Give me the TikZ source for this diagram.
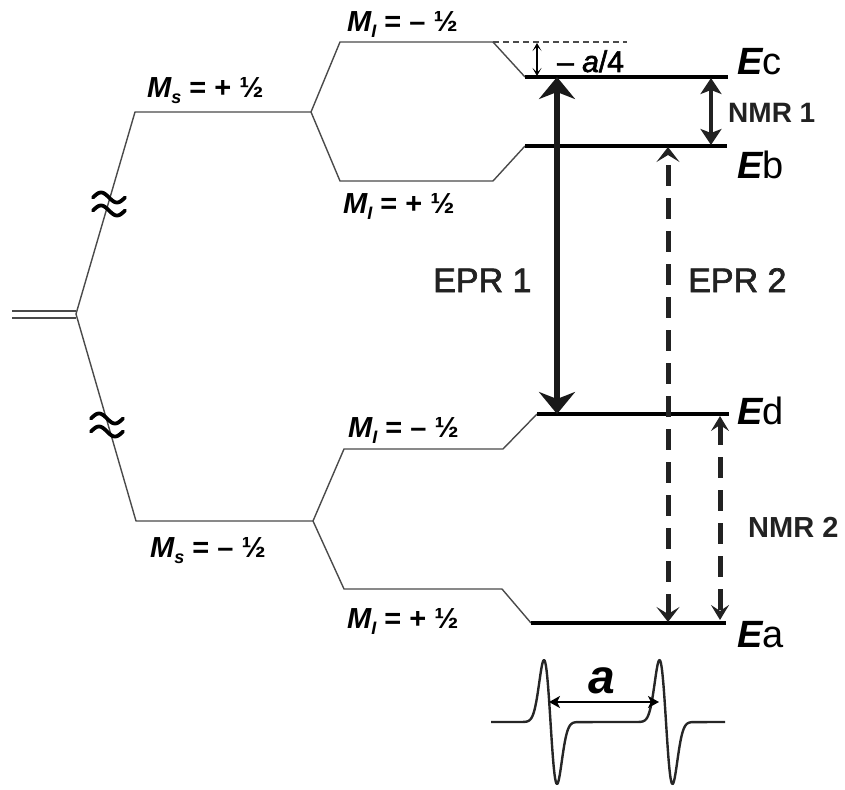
\documentclass[tikz,border=0pt]{standalone}
\usepackage{fontspec}
\setmainfont{Liberation Sans}
\newfontfamily\medfont[FakeBold=2]{Liberation Sans}
\usetikzlibrary{arrows.meta}
\definecolor{thinc}{HTML}{4A4A4A}
\definecolor{labc}{HTML}{222222}
\newcommand\mlbl[1]{{\itshape M\raisebox{-6pt}{\fontsize{18}{18}\selectfont #1}}}
\newcommand\elbl[1]{{\bfseries\itshape E}#1}
\tikzset{
  thinlvl/.style={draw=thinc, line width=1.4pt, line join=round},
  thicklvl/.style={draw=black, line width=4pt},
  mlab/.style={anchor=base west, inner sep=0pt, font=\fontsize{29}{32}\selectfont\bfseries},
  elab/.style={anchor=base west, inner sep=0pt, font=\fontsize{38}{42}\selectfont},
  tlab/.style={anchor=base west, inner sep=0pt, text=labc},
  epra/.style={line width=6.5pt, draw=black!90,
    {Stealth[length=22pt,width=36pt,inset=7pt]}-{Stealth[length=22pt,width=36pt,inset=7pt]}},
  eprb/.style={line width=5pt, draw=labc, dash pattern=on 21pt off 12pt,
    {Stealth[length=15pt,width=23pt,inset=7pt]}-{Stealth[length=15pt,width=23pt,inset=7pt]}},
  nmra/.style={line width=4.5pt, draw=labc,
    {Stealth[length=16pt,width=21pt,inset=4pt]}-{Stealth[length=16pt,width=21pt,inset=4pt]}},
  nmrb/.style={line width=5pt, draw=labc, dash pattern=on 21pt off 12pt,
    {Stealth[length=15pt,width=18pt,inset=6pt]}-{Stealth[length=15pt,width=18pt,inset=6pt]}},
  smalla/.style={line width=1.3pt, draw=black,
    {Stealth[length=8pt,width=9pt,inset=4.5pt]}-{Stealth[length=8pt,width=9pt,inset=4.5pt]}},
  spacing/.style={line width=2.4pt, draw=black,
    {Stealth[length=11pt,width=12pt,inset=3pt]}-{Stealth[length=11pt,width=12pt,inset=3pt]}},
  approx/.style={line width=3.8pt, draw=black, line cap=round},
  spec/.style={line width=2.4pt, draw=black!85, line join=round},
}
\begin{document}
\begin{tikzpicture}[x=1pt,y=-1pt]
\useasboundingbox (0,0) rectangle (845,789);
% degenerate level
\coordinate (d1) at (12,311);
\coordinate (d2) at (12,318);
\coordinate (br) at (76,314);
\draw[thinlvl] (d1) -- (76,311);
\draw[thinlvl] (d2) -- (76,318);
% Ms = +1/2
\coordinate (su1) at (135,112);
\coordinate (su2) at (311,112);
\draw[thinlvl] (br) -- (su1) -- (su2);
% Ms = -1/2
\coordinate (sl1) at (136,521);
\coordinate (sl2) at (313,521);
\draw[thinlvl] (br) -- (sl1) -- (sl2);
% upper nuclear sublevels
\coordinate (c1) at (340,42);
\coordinate (c2) at (493,42);
\coordinate (c3) at (627,42);
\coordinate (ecl) at (525,77);
\coordinate (ecr) at (728,77);
\draw[thinlvl] (su2) -- (c1) -- (c2) -- (ecl);
\draw[thinlvl, dash pattern=on 6pt off 4pt] (c2) -- (c3);
\draw[thicklvl] (ecl) -- (ecr);
\coordinate (b1) at (340,181);
\coordinate (b2) at (493,181);
\coordinate (ebl) at (525,146);
\coordinate (ebr) at (727,146);
\draw[thinlvl] (su2) -- (b1) -- (b2) -- (ebl);
\draw[thicklvl] (ebl) -- (ebr);
% lower nuclear sublevels
\coordinate (e1) at (344,449);
\coordinate (e2) at (503,449);
\coordinate (edl) at (537,414);
\coordinate (edr) at (729,414);
\draw[thinlvl] (sl2) -- (e1) -- (e2) -- (edl);
\draw[thicklvl] (edl) -- (edr);
\coordinate (a1) at (344,589);
\coordinate (a2) at (502,589);
\coordinate (eal) at (531,623);
\coordinate (ear) at (726,623);
\draw[thinlvl] (sl2) -- (a1) -- (a2) -- (eal);
\draw[thicklvl] (eal) -- (ear);
% approx symbols
\foreach \cx/\cy in {109/204, 107/425}{
  \foreach \o in {-6.5,6.5}{
    \draw[approx] plot[domain=-16:16, samples=40, smooth] ({\cx+\x}, {\cy+\o+5*sin(\x*11.25)});
  }
}
% transition arrows
\coordinate (ep1t) at (557,77);
\coordinate (ep1b) at (557,414);
\draw[epra] (ep1t) -- (ep1b);
\coordinate (ep2t) at (668,147);
\coordinate (ep2b) at (668,622);
\draw[eprb] (ep2b) -- (ep2t);
\coordinate (nm1t) at (711,78);
\coordinate (nm1b) at (711,145);
\draw[nmra] (nm1t) -- (nm1b);
\coordinate (nm2t) at (720,416);
\coordinate (nm2b) at (720,620);
\draw[nmrb] (nm2t) -- (nm2b);
\coordinate (sa1) at (537,43);
\coordinate (sa2) at (537,76);
\draw[smalla] (sa1) -- (sa2);
% labels
\node[mlab] (mi1) at (347,32) {\mlbl{I} = – ½};
\node[mlab] (ms1) at (147,98) {\mlbl{s} = + ½};
\node[mlab] (mi2) at (343,213) {\mlbl{I} = + ½};
\node[mlab] (mi3) at (348,437) {\mlbl{I} = – ½};
\node[mlab] (ms2) at (150,557) {\mlbl{s} = – ½};
\node[mlab] (mi4) at (347,628) {\mlbl{I} = + ½};
\node[tlab, text=black, font=\fontsize{30}{32}\selectfont\medfont] (qa) at (557,72) {– \textit{a}/4};
\node[elab] (ec) at (737,75) {\elbl{c}};
\node[elab] (eb) at (737,178) {\elbl{b}};
\node[elab] (ed) at (737,424) {\elbl{d}};
\node[elab] (ea) at (737,647) {\elbl{a}};
\node[tlab, font=\fontsize{28}{30}\selectfont\bfseries] (n1) at (728,123) {NMR 1};
\node[tlab, font=\fontsize{29}{30}\selectfont\bfseries] (n2) at (748,537) {NMR 2};
\node[tlab, font=\fontsize{34}{36}\selectfont\medfont] (p1) at (433,292) {EPR 1};
\node[tlab, font=\fontsize{34}{36}\selectfont\medfont] (p2) at (688,292) {EPR 2};
% spectrum
\draw[spec] (491,722) -- (523,722)
  -- plot[domain=523:578, samples=90, smooth] (\x,{722+102.2*((\x-550.5)/6.5)*exp(-((\x-550.5)/6.5)^2/2)})
  -- (639,722)
  -- plot[domain=639:693, samples=90, smooth] (\x,{722+102.2*((\x-666)/6.5)*exp(-((\x-666)/6.5)^2/2)})
  -- (725,722);
\coordinate (hl) at (549,702);
\coordinate (hr) at (659,702);
\draw[spacing] (hl) -- (hr);
\node[anchor=base west, inner sep=0pt, font=\fontsize{48}{50}\selectfont\bfseries\itshape] (al) at (588,693) {a};
\end{tikzpicture}
\end{document}
